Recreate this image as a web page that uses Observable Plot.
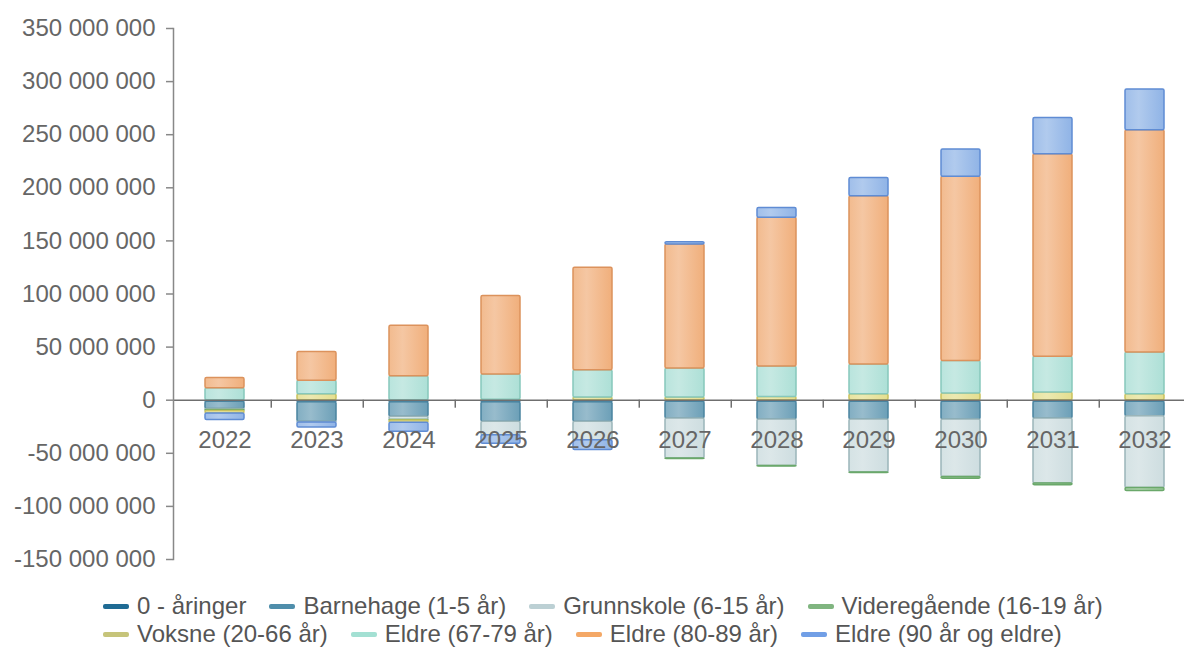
<!DOCTYPE html>
<html><head><meta charset="utf-8">
<script src="https://cdn.jsdelivr.net/npm/d3@7"></script>
<script src="https://cdn.jsdelivr.net/npm/@observablehq/plot@0.6"></script>
<style>
body{margin:0;background:#fff;font-family:"Liberation Sans",Arial,sans-serif;overflow:hidden}
#chart{position:absolute;left:0;top:0}
#legend{position:absolute;left:103px;top:592px;width:1010px;display:flex;flex-wrap:wrap;column-gap:23px;font-size:24px;line-height:28px;color:#555}
.item{display:flex;align-items:center;white-space:nowrap}
.sw{width:26px;height:5px;border-radius:2px;margin-right:8px}
</style></head><body>
<div id="chart"></div><div id="legend"></div>
<script>
const years = [2022, 2023, 2024, 2025, 2026, 2027, 2028, 2029, 2030, 2031, 2032];
const seriesNames = ["0 - åringer", "Barnehage (1-5 år)", "Grunnskole (6-15 år)", "Videregående (16-19 år)",
  "Voksne (20-66 år)", "Eldre (67-79 år)", "Eldre (80-89 år)", "Eldre (90 år og eldre)"];
// values in millions
const nullAringer   = [-1.5, -2, -2, -2, -2, -1.5, -1.5, -1.5, -1.5, -1.5, -1.5];
const barnehage     = [-6.8, -18.4, -13.7, -18.4, -18.4, -15.7, -16.7, -16.7, -16.7, -15.8, -13.5];
const grunnskole    = [-1, -0.5, -3, -12.6, -17.2, -37.8, -43.8, -49.8, -54, -61.1, -67.6];
const videregaende  = [-0.8, 0, -0.5, 0, 0, -0.3, -0.5, -0.5, -1.8, -1.6, -2.8];
const voksne        = [-2.5, 5.5, -2, 0.5, 2.5, 2.5, 3, 5.5, 6.3, 7.3, 5.5];
const eldre6779     = [11.3, 12.7, 22.6, 23.7, 25.7, 27.3, 28.8, 28.1, 30.7, 33.5, 39.4];
const eldre8089     = [9.7, 27.3, 47.4, 74, 96.4, 116.8, 139.9, 158.5, 173.3, 190.8, 209.3];
const eldre90       = [-6, -4.7, -8.5, -8, -9.4, 2.2, 9.3, 17.2, 25.7, 34.2, 38.4];
const seriesValues = [nullAringer, barnehage, grunnskole, videregaende, voksne, eldre6779, eldre8089, eldre90];

const fillColors   = ["#4886a8", "#5f97b1", "#c9dadd", "#8cc08a", "#e2dc86", "#a6ddd3", "#efa870", "#86ade4"];
const strokeColors = ["#3f7c9c", "#4a84a0", "#9bb5b9", "#6aa86a", "#c9c25e", "#86c8bc", "#dc925c", "#5f8cd4"];
const legendColors = ["#1f6b94", "#4f8eab", "#bcd0d4", "#80b580", "#c6c47a", "#a3e0d3", "#f4a866", "#719fe6"];
const yTicks = [-150e6, -100e6, -50e6, 0, 50e6, 100e6, 150e6, 200e6, 250e6, 300e6, 350e6];

const M = 1e6;
const data = [];
seriesNames.forEach((s, i) => seriesValues[i].forEach((v, j) => {
  if (v !== 0) data.push({year: years[j], series: s, si: i, value: v * M});
}));

const fmt = d3.formatLocale({decimal: ",", thousands: " ", grouping: [3], currency: ["", ""], minus: "-"}).format(",d");
const xRange = [175, 1193];
const step = (xRange[1] - xRange[0]) / years.length;

const defs = () => {
  const d = d3.create("svg:defs");
  fillColors.forEach((c, i) => {
    const g = d.append("linearGradient").attr("id", "grad" + i)
      .attr("x1", 0).attr("x2", 1).attr("y1", 0).attr("y2", 0);
    g.append("stop").attr("offset", "0%").attr("stop-color", d3.interpolateRgb(c, "#fff")(0.15));
    g.append("stop").attr("offset", "35%").attr("stop-color", d3.interpolateRgb(c, "#fff")(0.3));
    g.append("stop").attr("offset", "100%").attr("stop-color", c);
  });
  return d.node();
};

const chart = Plot.plot({
  width: 1184, height: 580,
  marginLeft: 173, marginRight: 0, marginTop: 28, marginBottom: 21,
  style: {fontFamily: "'Liberation Sans', Arial, sans-serif", fontSize: "24px", background: "#fff", overflow: "visible"},
  x: {type: "band", domain: years, range: xRange, paddingInner: 0.58, paddingOuter: 0.29, axis: null},
  y: {domain: [yTicks[0], yTicks[yTicks.length - 1]], axis: null},
  color: {type: "identity"},
  marks: [
    defs,
    Plot.barY(data, Plot.stackY({
      x: "year", y: "value", z: "series",
      fill: d => `url(#grad${d.si})`, stroke: d => strokeColors[d.si],
      strokeWidth: 1.5, fillOpacity: 0.92, rx: 1.5
    })),
    Plot.ruleY([0], {stroke: "#6f6f6f", strokeWidth: 1.5}),
    Plot.ruleX(years, {x: d => d, dx: step / 2, y1: 0, y2: 0, insetBottom: -8, stroke: "#6f6f6f", strokeWidth: 1.5}),
    Plot.text(years, {x: d => d, y: 0, dy: 40, text: d => String(d), fill: "#666", fontSize: 24}),
    Plot.axisY({ticks: yTicks, tickFormat: fmt, tickSize: 7, tickPadding: 11, fontSize: 24,
      fill: "#666", stroke: "#888", strokeWidth: 1.5, label: null}),
    Plot.frame({anchor: "left", stroke: "#888", strokeWidth: 1.5})
  ]
});
document.getElementById("chart").append(chart);

const legend = document.getElementById("legend");
seriesNames.forEach((s, i) => {
  const item = document.createElement("div");
  item.className = "item";
  const sw = document.createElement("span");
  sw.className = "sw";
  sw.style.background = legendColors[i];
  const t = document.createElement("span");
  t.textContent = s;
  item.append(sw, t);
  legend.append(item);
});
</script></body></html>
